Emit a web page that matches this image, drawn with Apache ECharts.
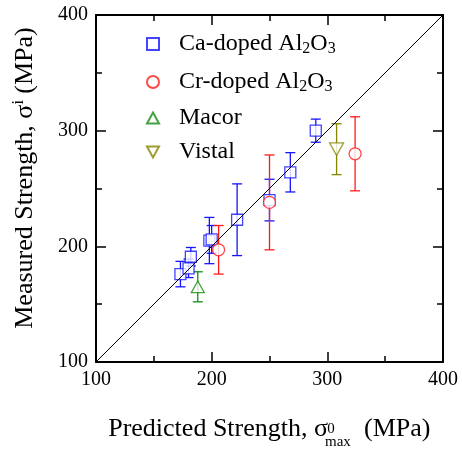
<!DOCTYPE html>
<html>
<head>
<meta charset="utf-8">
<script src="https://cdn.jsdelivr.net/npm/echarts@6/dist/echarts.min.js"></script>
<style>
  html, body { margin: 0; padding: 0; background: #fff; }
  #main { width: 462px; height: 451px; }
</style>
</head>
<body>
<div id="main"></div>
<script>
// Ca-doped Al2O3 (blue squares)
var caX = [173, 180, 182, 198, 200, 222, 250, 268, 290];
var caY = [176, 181, 191, 205, 206, 223, 240, 264, 300];
var caErr = [11, 8, 8, 20, 12, 31, 18, 17, 10];
// Cr-doped Al2O3 (red circles)
var crX = [206, 250, 324];
var crY = [197, 238, 280];
var crErr = [21, 41, 32];
// Macor (green up triangle)
var maX = [188];
var maY = [165];
var maErr = [13];
// Vistal (olive down triangle)
var viX = [308];
var viY = [284];
var viErr = [22];

var axisTicks = [100, 200, 300, 400];
var font = "'Liberation Serif', 'Times New Roman', serif";

var chart = echarts.init(document.getElementById('main'));

function pts(xs, ys) {
  return xs.map(function (x, i) { return [x, ys[i]]; });
}

// vertical error bars with caps
function errBars(name, xs, ys, errs, color) {
  return {
    type: 'custom',
    name: name,
    silent: true,
    z: 2,
    encode: { x: 0, y: [1, 2] },
    data: xs.map(function (x, i) { return [x, ys[i] - errs[i], ys[i] + errs[i]]; }),
    renderItem: function (params, api) {
      var lo = api.coord([api.value(0), api.value(1)]);
      var hi = api.coord([api.value(0), api.value(2)]);
      var w = 5;
      var st = { stroke: color, lineWidth: 1.3 };
      return {
        type: 'group',
        children: [
          { type: 'line', shape: { x1: lo[0], y1: lo[1], x2: hi[0], y2: hi[1] }, style: st },
          { type: 'line', shape: { x1: lo[0] - w, y1: lo[1], x2: lo[0] + w, y2: lo[1] }, style: st },
          { type: 'line', shape: { x1: hi[0] - w, y1: hi[1], x2: hi[0] + w, y2: hi[1] }, style: st }
        ]
      };
    }
  };
}

function scat(name, xs, ys, color, symbol, size) {
  return {
    type: 'scatter',
    name: name,
    z: 3,
    symbol: symbol,
    symbolSize: size,
    symbolKeepAspect: true,
    data: pts(xs, ys),
    itemStyle: { color: '#fff', borderColor: color, borderWidth: 1.3 }
  };
}

var upTri = 'path://M5,0 L10,9 L0,9 Z';
var downTri = 'path://M0,0 L10,0 L5,9 Z';

var legendText = {
  'Ca': '{gap|}Ca-doped Al{sub|2}O{sub|3}',
  'Cr': '{gap|}Cr-doped Al{sub|2}O{sub|3}',
  'Macor': '{gap|}Macor',
  'Vistal': '{gap|}Vistal'
};
var legendRows = [['Ca', 44], ['Cr', 82], ['Macor', 118], ['Vistal', 152]];

function legendFor(row) {
  return {
    data: [row[0]],
    left: 146,
    top: row[1] - 13,
    padding: 0,
    itemWidth: 12,
    itemHeight: 12,
    selectedMode: false,
    formatter: function (n) { return legendText[n]; },
    textStyle: {
      fontFamily: font,
      fontSize: 24,
      color: '#000',
      lineHeight: 26,
      rich: {
        gap: { width: 15 },
        sub: { fontSize: 16, lineHeight: 12, verticalAlign: 'bottom', fontFamily: font, color: '#000' }
      }
    }
  };
}

function makeAxis(pos, showLabel) {
  return {
    type: 'value',
    position: pos,
    min: 100,
    max: 400,
    interval: 100,
    axisLine: { onZero: false, lineStyle: { color: '#000', width: 2 } },
    axisTick: { inside: true, length: 10, lineStyle: { color: '#000', width: 1.5 } },
    minorTick: { show: true, splitNumber: 2, length: 6, lineStyle: { color: '#000', width: 1.5 } },
    splitLine: { show: false },
    axisLabel: {
      show: showLabel,
      fontFamily: font,
      fontSize: 20,
      color: '#000',
      margin: 8,
      formatter: function (v) { return axisTicks.indexOf(v) >= 0 ? String(v) : ''; }
    }
  };
}

var option = {
  backgroundColor: '#fff',
  animation: false,
  grid: { left: 96, top: 15, width: 347, height: 347 },
  xAxis: [makeAxis('bottom', true), makeAxis('top', false)],
  yAxis: [makeAxis('left', true), makeAxis('right', false)],
  legend: legendRows.map(legendFor),
  graphic: [
    {
      type: 'text', x: 25, y: 178, rotation: Math.PI / 2,
      style: {
        text: 'Measured Strength, \u03c3{sup|i} (MPa)',
        fontFamily: font, fontSize: 26, fill: '#000',
        align: 'center', verticalAlign: 'middle', lineHeight: 28,
        rich: { sup: { fontSize: 16, lineHeight: 14, verticalAlign: 'top', fontFamily: font, fill: '#000' } }
      }
    },
    {
      type: 'text', x: 328, y: 429,
      style: { text: 'Predicted Strength, \u03c3', fontFamily: font, fontSize: 26, fill: '#000', align: 'right', verticalAlign: 'middle' }
    },
    {
      type: 'text', x: 331, y: 429,
      style: { text: '0', fontFamily: font, fontSize: 15, fill: '#000', align: 'center', verticalAlign: 'middle' }
    },
    {
      type: 'text', x: 325, y: 442,
      style: { text: 'max', fontFamily: font, fontSize: 15, fill: '#000', align: 'left', verticalAlign: 'middle' }
    },
    {
      type: 'text', x: 364, y: 429,
      style: { text: '(MPa)', fontFamily: font, fontSize: 26, fill: '#000', align: 'left', verticalAlign: 'middle' }
    }
  ],
  series: [
    {
      type: 'line', name: 'diag', silent: true, z: 5, symbol: 'none',
      data: [[100, 100], [400, 400]],
      lineStyle: { color: '#000', width: 1 }
    },
    errBars('caErr', caX, caY, caErr, '#1515ff'),
    errBars('crErr', crX, crY, crErr, '#ff1a1a'),
    errBars('maErr', maX, maY, maErr, '#118c11'),
    errBars('viErr', viX, viY, viErr, '#858500'),
    scat('Ca', caX, caY, '#1515ff', 'rect', 11),
    scat('Cr', crX, crY, '#ff1a1a', 'circle', 12),
    scat('Macor', maX, maY, '#118c11', upTri, 13),
    scat('Vistal', viX, viY, '#858500', downTri, 14)
  ]
};

chart.setOption(option);
</script>
</body>
</html>
